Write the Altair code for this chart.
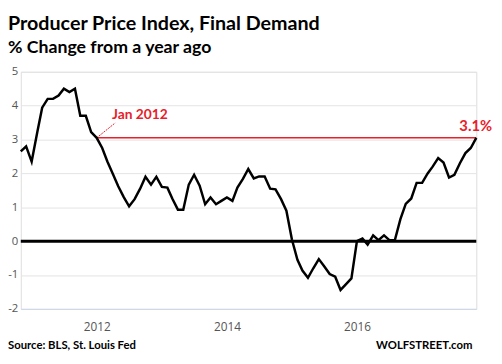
import altair as alt
import pandas as pd

# ---- data -------------------------------------------------------------
months = pd.date_range("2010-11-01", "2017-11-01", freq="MS").strftime("%Y-%m-%d").tolist()

ppi_yoy = [
    2.65, 2.8,
    2.35, 3.2, 3.94, 4.2, 4.2, 4.3, 4.5, 4.4, 4.5, 3.7, 3.7, 3.22,
    3.05, 2.75, 2.35, 1.98, 1.62, 1.3, 1.03, 1.24, 1.55, 1.9, 1.67, 1.9,
    1.6, 1.58, 1.25, 0.93, 0.93, 1.67, 1.96, 1.64, 1.09, 1.29, 1.09, 1.19,
    1.29, 1.19, 1.58, 1.84, 2.13, 1.85, 1.91, 1.91, 1.55, 1.53, 1.24, 0.9,
    0.05, -0.55, -0.87, -1.08, -0.8, -0.53, -0.74, -0.97, -1.05, -1.44, -1.27, -1.1,
    0.0, 0.08, -0.1, 0.17, 0.03, 0.17, 0.03, 0.03, 0.65, 1.1, 1.26, 1.72,
    1.72, 2.0, 2.2, 2.45, 2.32, 1.88, 1.96, 2.3, 2.6, 2.75, 3.05,
]

y_ticks = [-2, -1, 0, 1, 2, 3, 4, 5]
x_tick_years = [2012, 2014, 2016]

ref_start = "2012-01-01"
ref_end = "2017-11-01"
ref_value = 3.05
leader_end_date = "2012-04-14"
leader_end_value = 3.49
jan_label = "Jan 2012"
jan_label_date = "2012-03-27"
jan_label_value = 3.73
last_label = "3.1%"

title_text = "Producer Price Index, Final Demand"
subtitle_text = "% Change from a year ago"
source_text = "Source: BLS, St. Louis Fed"
brand_text = "WOLFSTREET.com"

RED = "#e8202a"
FONT = "Lato"

df = pd.DataFrame({"date": months, "value": ppi_yoy})

x_scale = alt.Scale(
    type="utc",
    domain=[alt.DateTime(year=2010, month=11, date=1, utc=True),
            alt.DateTime(year=2017, month=11, date=1, utc=True)],
)
y_scale = alt.Scale(domain=[-2, 5], nice=False, zero=False)

x_axis = alt.Axis(
    values=[alt.DateTime(year=y, month=1, date=1, utc=True) for y in x_tick_years],
    format="%Y", title=None, grid=False, ticks=False,
    domain=True, domainColor="#ccd6eb", domainWidth=1,
    labelFont="Open Sans", labelFontSize=12, labelColor="#555555", labelPadding=13,
)
y_axis = alt.Axis(
    values=y_ticks, title=None, grid=True, gridColor="#e3e3e3", gridWidth=1,
    ticks=False, domain=False, labelOverlap=False,
    labelExpr="'' + datum.value",
    labelFont="Open Sans", labelFontSize=11.5, labelColor="#555555", labelPadding=3,
)


def X(field):
    return alt.X(field, scale=x_scale, axis=x_axis)


def Y(field):
    return alt.Y(field, scale=y_scale, axis=y_axis)


line = alt.Chart(df).mark_line(color="black", strokeWidth=2.5).encode(
    x=X("date:T"), y=Y("value:Q"),
)

ref_df = pd.DataFrame({"start": [ref_start], "end": [ref_end], "v": [ref_value]})
ref_rule = alt.Chart(ref_df).mark_rule(color=RED, strokeWidth=1.5).encode(
    x=X("start:T"), x2="end:T", y=Y("v:Q")
)

leader_df = pd.DataFrame({
    "d1": [ref_start], "v1": [ref_value],
    "d2": [leader_end_date], "v2": [leader_end_value],
})
leader = alt.Chart(leader_df).mark_rule(color=RED, strokeWidth=1, strokeDash=[2, 1]).encode(
    x=X("d1:T"), x2="d2:T", y=Y("v1:Q"), y2="v2:Q"
)

zero_rule = alt.Chart(pd.DataFrame({"z": [0]})).mark_rule(color="black", strokeWidth=3).encode(
    y=Y("z:Q")
)

jan_df = pd.DataFrame({"d": [jan_label_date], "v": [jan_label_value], "t": [jan_label]})
jan_text = alt.Chart(jan_df).mark_text(
    align="left", baseline="middle", font=FONT, fontSize=14, fontWeight="bold", color=RED
).encode(x=X("d:T"), y=Y("v:Q"), text="t:N")

last_df = pd.DataFrame({"d": [ref_end], "v": [ref_value], "t": [last_label]})
last_text = alt.Chart(last_df).mark_text(
    align="right", baseline="middle", font=FONT, fontSize=15, fontWeight="bold", color=RED,
    dx=16, dy=-12,
).encode(x=X("d:T"), y=Y("v:Q"), text="t:N")

source = alt.Chart(pd.DataFrame({"t": [source_text]})).mark_text(
    align="left", baseline="middle", font=FONT, fontSize=11.5, fontWeight="bold", color="black"
).encode(x=alt.value(-13), y=alt.value(279), text="t:N")

brand = alt.Chart(pd.DataFrame({"t": [brand_text]})).mark_text(
    align="right", baseline="middle", font=FONT, fontSize=11.5, fontWeight="bold", color="black"
).encode(x=alt.value(459), y=alt.value(279), text="t:N")

chart = alt.layer(
    ref_rule, leader, zero_rule, line, jan_text, last_text, source, brand
).properties(
    width=463,
    height=241,
    padding={"left": 13, "top": 62, "right": 18, "bottom": 43},
    autosize=alt.AutoSizeParams(type="none"),
    title=alt.TitleParams(
        text=title_text, subtitle=subtitle_text, anchor="start", frame="group",
        dx=-13, offset=9, font=FONT, fontSize=20, fontWeight="bold", color="black",
        subtitleFont=FONT, subtitleFontSize=18, subtitleFontWeight="bold",
        subtitleColor="black", subtitlePadding=5,
    ),
).configure_view(stroke=None).configure(background="white")

chart.save("out.html", embed_options={"renderer": "svg", "actions": False})
